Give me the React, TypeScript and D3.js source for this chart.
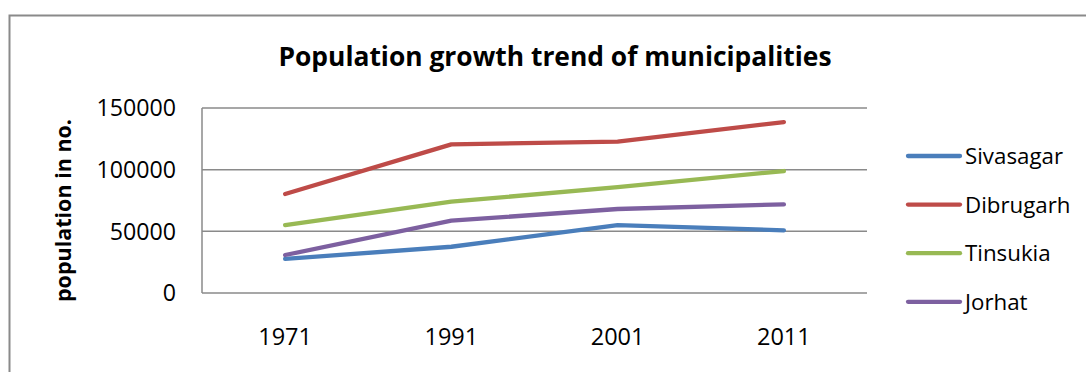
import React from "react";
import * as d3 from "d3";

const years = ["1971", "1991", "2001", "2011"];
const seriesNames = ["Sivasagar", "Dibrugarh", "Tinsukia", "Jorhat"];
const sivasagar = [27600, 37500, 55100, 50800];
const dibrugarh = [80300, 120500, 122700, 138600];
const tinsukia = [55100, 74000, 85900, 98900];
const jorhat = [30800, 58600, 68100, 71900];
const yTicks = [0, 50000, 100000, 150000];
const colors = ["#4A7EBB", "#BE4B48", "#98B954", "#7D60A0"];

const seriesValues = [sivasagar, dibrugarh, tinsukia, jorhat];

const W = 1086;
const H = 372;
const FONT = "'Open Sans', 'DejaVu Sans', sans-serif";

export default function App() {
  const x = d3.scaleBand<string>().domain(years).range([202, 867]);
  const y = d3.scaleLinear().domain([0, 150000]).range([293, 108]);
  const cx = (yr: string) => (x(yr) as number) + x.bandwidth() / 2;
  const line = d3
    .line<number>()
    .x((_, i) => cx(years[i]))
    .y((v) => y(v));
  const grid = "#8A8A8A";

  return (
    <svg
      width={W}
      height={H}
      style={{ position: "absolute", left: 0, top: 0, background: "#fff" }}
      fontFamily={FONT}
    >
      <rect x={0} y={0} width={W} height={H} fill="#fff" />
      <rect x={9.5} y={15.5} width={W + 20} height={H + 20} fill="none" stroke={grid} strokeWidth={2} />
      <text x={555} y={66} textAnchor="middle" fontSize={26.4} fontWeight={700} fill="#000">
        Population growth trend of municipalities
      </text>
      {yTicks.map((t) => (
        <g key={t}>
          {t > 0 && (
            <line x1={202} x2={867} y1={y(t)} y2={y(t)} stroke={grid} strokeWidth={1.5} />
          )}
          <text x={176} y={y(t)} dy="0.36em" textAnchor="end" fontSize={23.2} fill="#000">
            {t}
          </text>
        </g>
      ))}
      <line x1={202} x2={202} y1={108} y2={293} stroke={grid} strokeWidth={1.5} />
      <line x1={202} x2={867} y1={293} y2={293} stroke={grid} strokeWidth={1.5} />
      {years.map((yr) => (
        <text key={yr} x={cx(yr)} y={344.5} textAnchor="middle" fontSize={23.5} fill="#000">
          {yr}
        </text>
      ))}
      <text
        transform="translate(71,210.5) rotate(-90)"
        textAnchor="middle"
        fontSize={21.5}
        fontWeight={700}
        fill="#000"
      >
        population in no.
      </text>
      {seriesValues.map((vals, i) => (
        <path
          key={seriesNames[i]}
          d={line(vals) as string}
          fill="none"
          stroke={colors[i]}
          strokeWidth={4.3}
          strokeLinecap="round"
          strokeLinejoin="round"
        />
      ))}
      {seriesNames.map((n, i) => {
        const ly = 156 + i * 48.6;
        return (
          <g key={n}>
            <line x1={908} x2={960} y1={ly} y2={ly} stroke={colors[i]} strokeWidth={4.3} strokeLinecap="round" />
            <text x={965} y={ly} dy="0.36em" fontSize={22.3} fill="#000">
              {n}
            </text>
          </g>
        );
      })}
    </svg>
  );
}
